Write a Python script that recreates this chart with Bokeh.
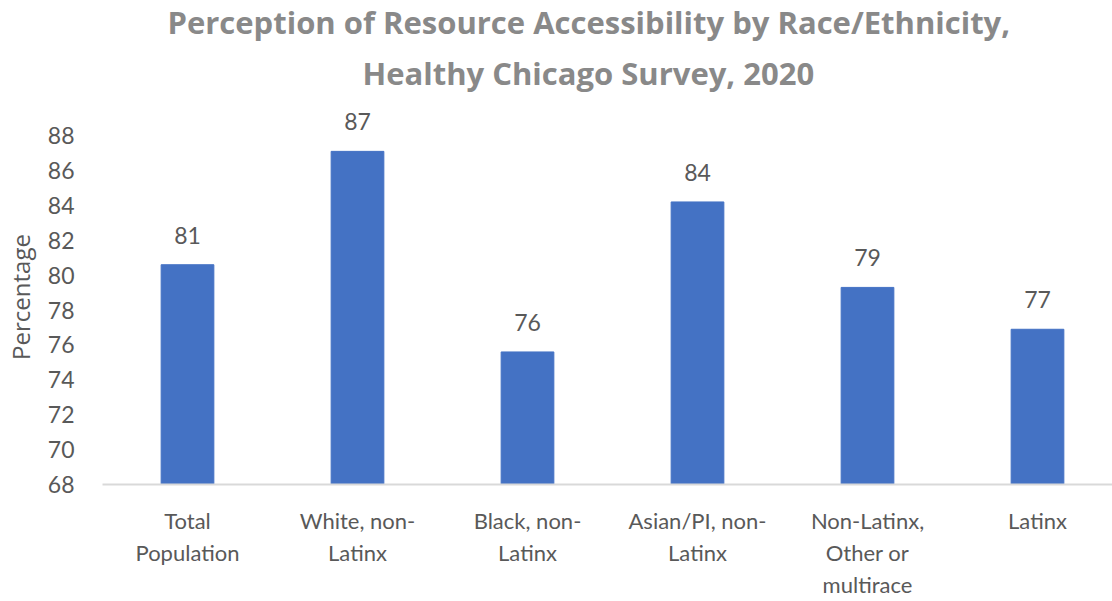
from bokeh.plotting import figure
from bokeh.models import (ColumnDataSource, Range1d, FixedTicker, LabelSet, Title)
from bokeh.core.properties import value
from bokeh.embed import file_html
from bokeh.resources import INLINE

title_lines = ["Perception of Resource Accessibility by Race/Ethnicity,",
               "Healthy Chicago Survey, 2020"]
categories = ["Total\nPopulation", "White, non-\nLatinx", "Black, non-\nLatinx",
              "Asian/PI, non-\nLatinx", "Non-Latinx,\nOther or\nmultirace", "Latinx"]
values = [80.6, 87.1, 75.6, 84.2, 79.3, 76.9]
y_ticks = [68, 70, 72, 74, 76, 78, 80, 82, 84, 86, 88]

xs = list(range(len(categories)))
src = ColumnDataSource(dict(x=xs, top=values, label=[str(round(v)) for v in values]))

FONT = "Lato"
GRAY = "#595959"
TGRAY = "#898989"

FRAME_LEFT = 102
FRAME_BOTTOM = 485

p = figure(width=1112, height=601, output_backend="svg", toolbar_location=None,
           x_range=Range1d(-0.5, -0.5 + 1010 / 170), y_range=Range1d(68, 89.5),
           min_border_left=FRAME_LEFT, min_border_right=0, min_border_top=109,
           min_border_bottom=601 - FRAME_BOTTOM)
p.outline_line_color = None
p.background_fill_color = "white"
p.border_fill_color = "white"
p.grid.visible = False

p.vbar(x="x", top="top", bottom=68, width=0.31, source=src,
       fill_color="#4472C4", line_color="#4472C4")

labels = LabelSet(x="x", y="top", text="label", source=src, text_align="center",
                  text_baseline="alphabetic", y_offset=21, text_font=value(FONT),
                  text_font_size=value("23px"), text_color=GRAY)
p.add_layout(labels)

# title: two lines (outer line is the figure's own title)
p.title.text = title_lines[0]
p.title.align = "left"
p.title.offset = 65
p.title.standoff = -16
p.title.text_font = "Open Sans"
p.title.text_font_size = "31px"
p.title.text_font_style = "bold"
p.title.text_color = TGRAY
t2 = Title(text=title_lines[1], align="left", offset=260, standoff=31,
           text_font="Open Sans", text_font_size="31px", text_font_style="bold",
           text_color=TGRAY)
p.add_layout(t2, "above")

# axes
xa = p.xaxis[0]
xa.ticker = FixedTicker(ticks=xs)
xa.major_label_overrides = {i: c for i, c in enumerate(categories)}
xa.major_tick_line_color = None
xa.minor_tick_line_color = None
xa.axis_line_color = "#d9d9d9"
xa.axis_line_width = 2
xa.major_label_text_font = FONT
xa.major_label_text_font_size = "22px"
xa.major_label_text_color = GRAY
xa.major_label_text_line_height = 1.2
xa.major_label_standoff = 16

ya = p.yaxis[0]
ya.ticker = FixedTicker(ticks=y_ticks)
ya.axis_line_color = None
ya.major_tick_line_color = None
ya.minor_tick_line_color = None
ya.major_label_text_font = FONT
ya.major_label_text_font_size = "23px"
ya.major_label_text_color = GRAY
ya.major_label_standoff = 22
ya.axis_label = "Percentage"
ya.axis_label_text_font = "Open Sans"
ya.axis_label_text_font_size = "24px"
ya.axis_label_text_font_style = "normal"
ya.axis_label_text_color = GRAY
ya.axis_label_standoff = 8

open("out.html", "w").write(file_html(p, INLINE))
